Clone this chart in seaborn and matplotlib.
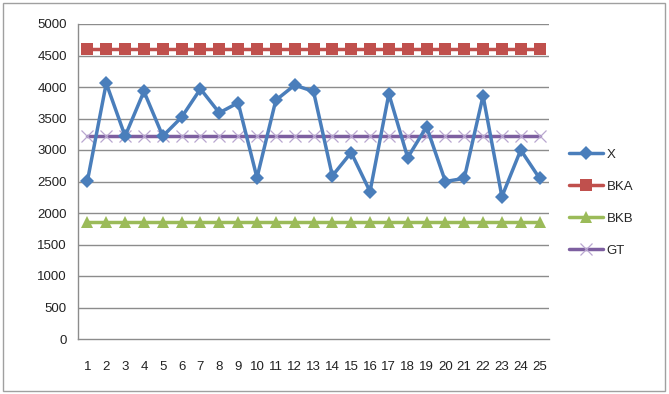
import matplotlib
matplotlib.use("Agg")
import matplotlib.pyplot as plt
import seaborn as sns
import numpy as np
import pandas as pd

# sample number on the x axis
samples = list(range(1, 26))

# series
x_vals = [2510, 4060, 3220, 3930, 3220, 3520, 3970, 3590, 3750, 2560,
          3790, 4030, 3930, 2590, 2960, 2340, 3890, 2880, 3370, 2500,
          2550, 3860, 2260, 3000, 2550]
bka = [4600, 4600, 4600, 4600, 4600, 4600, 4600, 4600, 4600, 4600,
       4600, 4600, 4600, 4600, 4600, 4600, 4600, 4600, 4600, 4600,
       4600, 4600, 4600, 4600, 4600]
bkb = [1860, 1860, 1860, 1860, 1860, 1860, 1860, 1860, 1860, 1860,
       1860, 1860, 1860, 1860, 1860, 1860, 1860, 1860, 1860, 1860,
       1860, 1860, 1860, 1860, 1860]
gt = [3230, 3230, 3230, 3230, 3230, 3230, 3230, 3230, 3230, 3230,
      3230, 3230, 3230, 3230, 3230, 3230, 3230, 3230, 3230, 3230,
      3230, 3230, 3230, 3230, 3230]

series_names = ["X", "BKA", "BKB", "GT"]

sns.set_style("white")
plt.rcParams["font.family"] = ["Liberation Sans", "DejaVu Sans"]

fig = plt.figure(figsize=(6.69, 3.94), dpi=100)
ax = fig.add_axes([78 / 669, 55 / 394, 471 / 669, 315 / 394])

grid_col = "#8c8c8c"
for y in np.arange(500, 5001, 500):
    ax.axhline(y, color=grid_col, lw=1, zorder=0)

# one lineplot per series so each gets its own marker
sns.lineplot(x=samples, y=bka, ax=ax, color="#c0504d", lw=2.5,
             marker="s", markersize=9, markeredgewidth=0, label="BKA", zorder=3)
sns.lineplot(x=samples, y=bkb, ax=ax, color="#9bbb59", lw=2.5,
             marker="^", markersize=9, markeredgewidth=0, label="BKB", zorder=3)
sns.lineplot(x=samples, y=gt, ax=ax, color="#7d5fa0", lw=2.5,
             marker="x", markersize=8.5, markeredgewidth=0.9,
             markeredgecolor="#b9a6d0", label="GT", zorder=3)
sns.lineplot(x=samples, y=x_vals, ax=ax, color="#4a7ebb", lw=2.5,
             marker="D", markersize=7, markeredgewidth=0, label="X", zorder=4)

ax.set_xlim(0.5, 25.5)
ax.set_ylim(0, 5000)
ax.set_yticks(np.arange(0, 5001, 500))
ax.set_xticks(samples)
ax.set_xticks(np.arange(0.5, 25.6, 1), minor=True)
ax.tick_params(axis="x", which="major", length=0, pad=16, labelsize=9.5)
ax.tick_params(axis="x", which="minor", length=4, width=1, color=grid_col, direction="out")
ax.tick_params(axis="y", length=5, width=1, color=grid_col, direction="out",
               labelsize=9.5, pad=3)
ax.tick_params(axis="both", labelcolor="#222222")
ax.set_xlabel("")
ax.set_ylabel("")

for side in ["top", "right"]:
    ax.spines[side].set_visible(False)
for side in ["left", "bottom"]:
    ax.spines[side].set_color(grid_col)
    ax.spines[side].set_linewidth(1)

# legend in Excel order
handles, labels = ax.get_legend_handles_labels()
order = [labels.index(n) for n in series_names]
ax.legend([handles[i] for i in order], series_names,
          loc="center left", bbox_to_anchor=(562 / 669, 191.5 / 394),
          bbox_transform=fig.transFigure, frameon=False, fontsize=9.5,
          labelspacing=1.5, handlelength=2.6, handletextpad=0.3,
          borderpad=0)

# chart area border
fig.patches.append(plt.Rectangle((3 / 669, 3 / 394), 662 / 669, 388 / 394,
                                 transform=fig.transFigure, fill=False,
                                 edgecolor="#a0a0a0", lw=1))

fig.savefig("out.png", dpi=100)
